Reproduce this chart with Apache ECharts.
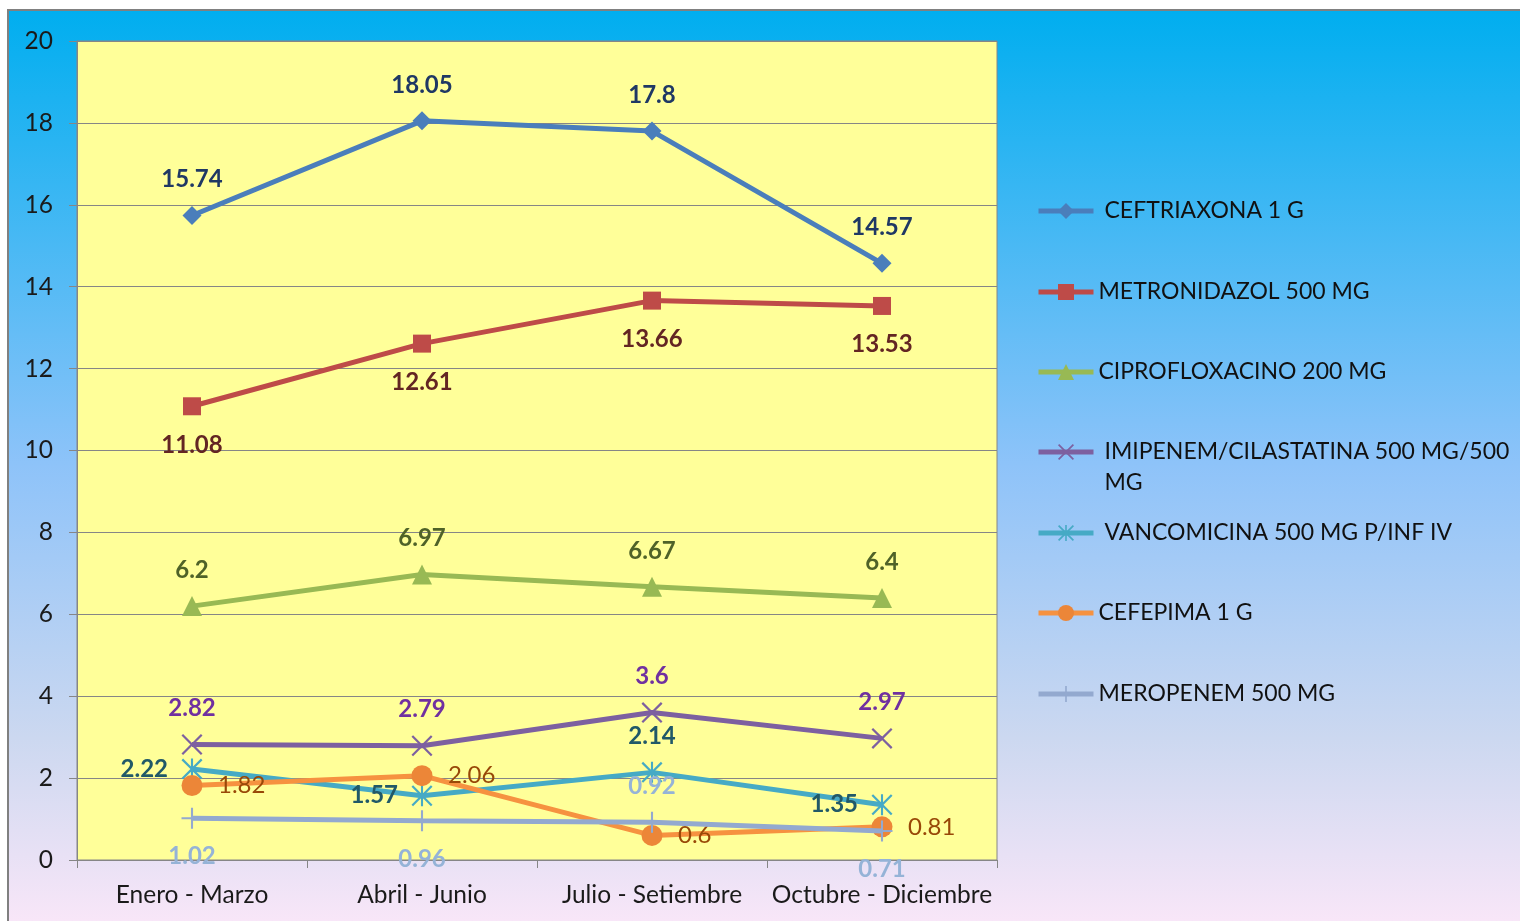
<!DOCTYPE html>
<html><head><meta charset="utf-8">
<script src="https://cdn.jsdelivr.net/npm/echarts/dist/echarts.min.js"></script>
<style>html,body{margin:0;padding:0;background:#fff;overflow:hidden}#c{width:1520px;height:921px}</style>
</head><body><div id="c"></div>
<script>
// ---- data ----
const categories = ['Enero - Marzo', 'Abril - Junio', 'Julio - Setiembre', 'Octubre - Diciembre'];
const seriesNames = ['CEFTRIAXONA 1 G', 'METRONIDAZOL 500 MG', 'CIPROFLOXACINO 200 MG',
  'IMIPENEM/CILASTATINA 500 MG/500 MG', 'VANCOMICINA 500 MG P/INF IV', 'CEFEPIMA 1 G', 'MEROPENEM 500 MG'];
const ceftriaxona = [15.74, 18.05, 17.8, 14.57];
const metronidazol = [11.08, 12.61, 13.66, 13.53];
const ciprofloxacino = [6.2, 6.97, 6.67, 6.4];
const imipenem = [2.82, 2.79, 3.6, 2.97];
const vancomicina = [2.22, 1.57, 2.14, 1.35];
const cefepima = [1.82, 2.06, 0.6, 0.81];
const meropenem = [1.02, 0.96, 0.92, 0.71];
const yTicks = [0, 20, 2]; // min, max, interval
const allValues = [ceftriaxona, metronidazol, ciprofloxacino, imipenem, vancomicina, cefepima, meropenem];

// ---- styles ----
const X_PATH = 'path://M0,1.5 L1.5,0 L10,8.5 L18.5,0 L20,1.5 L11.5,10 L20,18.5 L18.5,20 L10,11.5 L1.5,20 L0,18.5 L8.5,10 Z';
const STAR_PATH = 'path://M0,1.5 L1.5,0 L10,8.5 L18.5,0 L20,1.5 L11.5,10 L20,18.5 L18.5,20 L10,11.5 L1.5,20 L0,18.5 L8.5,10 Z M9,0 L11,0 L11,20 L9,20 Z';
const PLUS_PATH = 'path://M9,0 L11,0 L11,9 L20,9 L20,11 L11,11 L11,20 L9,20 L9,11 L0,11 L0,9 L9,9 Z';
const styles = [
  { color: '#4A7EBB', mark: '#4A7EBB', label: '#1F3864', symbol: 'diamond', size: 19, bold: true, pos: ['top', 'top', 'top', 'top'] },
  { color: '#BE4B48', mark: '#BE4B48', label: '#632523', symbol: 'rect', size: 18, bold: true, pos: ['bottom', 'bottom', 'bottom', 'bottom'] },
  { color: '#98B954', mark: '#98B954', label: '#4F6228', symbol: 'triangle', size: 20, bold: true, pos: ['top', 'top', 'top', 'top'] },
  { color: '#7D60A0', mark: '#7D60A0', label: '#7030A0', symbol: X_PATH, size: 21, bold: true, pos: ['top', 'top', 'top', 'top'] },
  { color: '#46AAC5', mark: '#46AAC5', label: '#215968', symbol: STAR_PATH, size: 21, bold: true, pos: ['left', 'left', 'top', 'left'] },
  { color: '#F69240', mark: '#EC8638', label: '#984807', symbol: 'circle', size: 21, bold: false, pos: ['right', 'right', 'right', 'right'] },
  { color: '#93A9CF', mark: '#93A9CF', label: '#95B3D7', symbol: PLUS_PATH, size: 21, bold: true, pos: ['bottom', 'bottom', 'top', 'bottom'] }
];
const LABEL_FS = 24;
function dist(pos, s) {
  if (pos === 'top') return 36 - s / 2 - LABEL_FS / 2;
  if (pos === 'bottom') return 38.5 - s / 2 - LABEL_FS / 2;
  if (pos === 'left') return 24 - s / 2;
  return 26 - s / 2;
}
const legendCenters = [211, 292, 372, 452, 533, 613, 694];
const legendLead = [6, 0, 0, 6, 6, 0, 0];

const series = seriesNames.map((name, i) => {
  const st = styles[i];
  return {
    name: name,
    type: 'line',
    symbol: st.symbol,
    symbolSize: st.size,
    lineStyle: { color: st.color, width: 5 },
    itemStyle: { color: st.mark },
    z: 2 + i,
    data: allValues[i].map((v, j) => ({
      value: v,
      label: {
        show: true,
        position: st.pos[j],
        distance: dist(st.pos[j], st.size),
        color: st.label,
        fontSize: LABEL_FS,
        fontFamily: 'Lato',
        fontWeight: st.bold ? 'bold' : 'normal'
      }
    }))
  };
});

const legends = seriesNames.map((name, i) => {
  const two = i === 3;
  return {
    data: [name],
    orient: 'vertical',
    left: 1036,
    top: two ? legendCenters[i] - 46.5 : legendCenters[i] - 15.5,
    padding: 0,
    itemWidth: 55,
    itemHeight: 20,
    selectedMode: false,
    lineStyle: { width: 5 },
    formatter: two ? () => ' \nIMIPENEM/CILASTATINA 500 MG/500\nMG' : '{name}',
    textStyle: {
      fontSize: 23, fontFamily: 'Lato', color: '#111', lineHeight: 31,
      padding: [0, 0, 0, legendLead[i]]
    }
  };
});

const chart = echarts.init(document.getElementById('c'), null, { renderer: 'canvas' });
chart.setOption({
  animation: false,
  backgroundColor: '#ffffff',
  graphic: [
    {
      type: 'rect', z: -100, silent: true,
      shape: { x: 8, y: 10, width: 1512, height: 911 },
      style: {
        fill: new echarts.graphic.LinearGradient(0, 0, 0, 1, [
          { offset: 0, color: '#00AEEF' },
          { offset: 0.5, color: '#8EC3F9' },
          { offset: 0.8, color: '#CCD8F0' },
          { offset: 1, color: '#F8E6F8' }
        ])
      }
    },
    {
      type: 'polyline', z: -99, silent: true,
      shape: { points: [[8, 921], [8, 10], [1520, 10]] },
      style: { stroke: '#808080', lineWidth: 2, fill: null }
    }
  ],
  grid: {
    left: 77, top: 41, width: 920, height: 819,
    show: true, backgroundColor: '#FFFF99', borderColor: '#868686', borderWidth: 1
  },
  legend: legends,
  xAxis: {
    type: 'category',
    data: categories,
    boundaryGap: true,
    axisLine: { show: true, lineStyle: { color: '#868686', width: 1 } },
    axisTick: { show: true, length: 8, lineStyle: { color: '#868686' } },
    axisLabel: { fontSize: 24.5, fontFamily: 'Lato', color: '#1a1a1a', margin: 23, interval: 0 },
    splitLine: { show: false }
  },
  yAxis: {
    type: 'value',
    min: yTicks[0], max: yTicks[1], interval: yTicks[2],
    axisLine: { show: true, lineStyle: { color: '#868686', width: 1 } },
    axisTick: { show: true, length: 8, lineStyle: { color: '#868686' } },
    axisLabel: { fontSize: 24.5, fontFamily: 'Lato', color: '#1a1a1a', margin: 24 },
    splitLine: { show: true, lineStyle: { color: '#868686', width: 1 } }
  },
  series: series
});
</script></body></html>
